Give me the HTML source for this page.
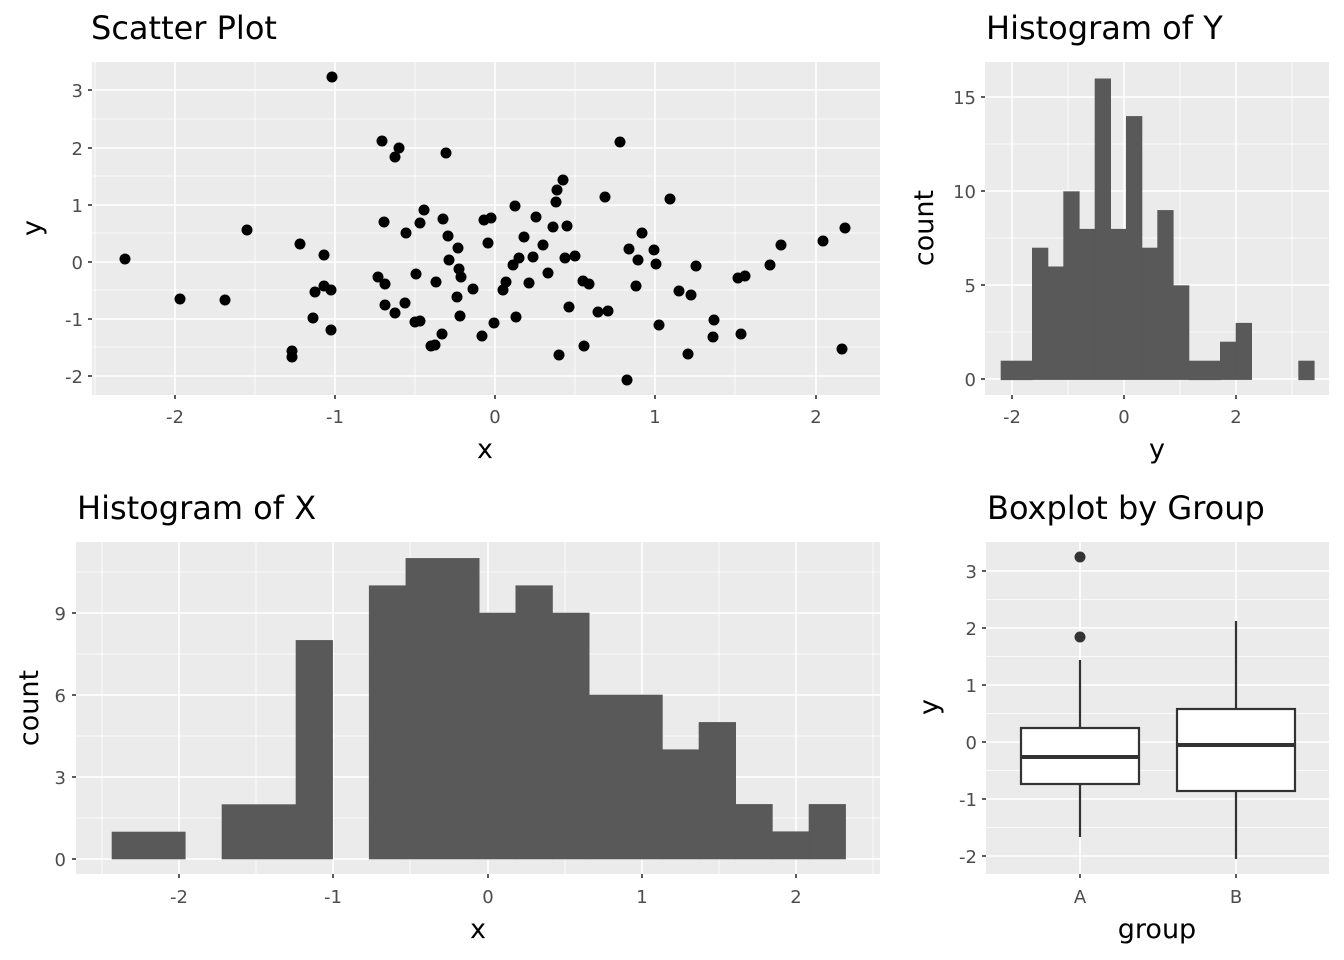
<!DOCTYPE html>
<html><head><style>body{margin:0;background:#fff}svg{display:block}</style></head><body>
<svg width="1344" height="960" xmlns="http://www.w3.org/2000/svg" font-family="DejaVu Sans, Liberation Sans, sans-serif">
<rect width="1344" height="960" fill="#fff"/>
<!-- Scatter -->
<rect x="92" y="62" width="788" height="333" fill="#ebebeb"/>
<g stroke="#fff" stroke-width="0.8">
<line x1="95" y1="62" x2="95" y2="395"/><line x1="255" y1="62" x2="255" y2="395"/><line x1="415" y1="62" x2="415" y2="395"/><line x1="575" y1="62" x2="575" y2="395"/><line x1="735" y1="62" x2="735" y2="395"/>
<line x1="92" y1="119" x2="880" y2="119"/><line x1="92" y1="176" x2="880" y2="176"/><line x1="92" y1="233" x2="880" y2="233"/><line x1="92" y1="290" x2="880" y2="290"/><line x1="92" y1="347" x2="880" y2="347"/>
</g>
<g stroke="#fff" stroke-width="1.6">
<line x1="175" y1="62" x2="175" y2="395"/><line x1="335" y1="62" x2="335" y2="395"/><line x1="495" y1="62" x2="495" y2="395"/><line x1="655" y1="62" x2="655" y2="395"/><line x1="816" y1="62" x2="816" y2="395"/>
<line x1="92" y1="90" x2="880" y2="90"/><line x1="92" y1="148" x2="880" y2="148"/><line x1="92" y1="205" x2="880" y2="205"/><line x1="92" y1="262" x2="880" y2="262"/><line x1="92" y1="319" x2="880" y2="319"/><line x1="92" y1="376" x2="880" y2="376"/>
</g>
<g stroke="#333" stroke-width="1.6">
<line x1="175" y1="395" x2="175" y2="399"/><line x1="335" y1="395" x2="335" y2="399"/><line x1="495" y1="395" x2="495" y2="399"/><line x1="655" y1="395" x2="655" y2="399"/><line x1="816" y1="395" x2="816" y2="399"/>
<line x1="88" y1="90" x2="92" y2="90"/><line x1="88" y1="148" x2="92" y2="148"/><line x1="88" y1="205" x2="92" y2="205"/><line x1="88" y1="262" x2="92" y2="262"/><line x1="88" y1="319" x2="92" y2="319"/><line x1="88" y1="376" x2="92" y2="376"/>
</g>
<g fill="#4d4d4d" font-size="18" text-anchor="middle">
<text x="175" y="423">-2</text><text x="335" y="423">-1</text><text x="495" y="423">0</text><text x="655" y="423">1</text><text x="816" y="423">2</text>
</g>
<g fill="#4d4d4d" font-size="18" text-anchor="end">
<text x="83" y="97">3</text><text x="83" y="155">2</text><text x="83" y="212">1</text><text x="83" y="269">0</text><text x="83" y="326">-1</text><text x="83" y="383">-2</text>
</g>
<text x="485" y="458" font-size="27" text-anchor="middle">x</text>
<text transform="translate(41,228) rotate(-90)" font-size="27" text-anchor="middle">y</text>
<text x="91" y="39" font-size="32">Scatter Plot</text>
<g fill="#000">
<circle cx="332" cy="77" r="5.5"/><circle cx="382" cy="141" r="5.5"/><circle cx="399" cy="148" r="5.5"/><circle cx="395" cy="157" r="5.5"/><circle cx="446" cy="153" r="5.5"/><circle cx="424" cy="210" r="5.5"/><circle cx="384" cy="222" r="5.5"/><circle cx="420" cy="223" r="5.5"/><circle cx="443" cy="219" r="5.5"/><circle cx="484" cy="220" r="5.5"/><circle cx="247" cy="230" r="5.5"/><circle cx="406" cy="233" r="5.5"/><circle cx="448" cy="236" r="5.5"/><circle cx="458" cy="248" r="5.5"/><circle cx="488" cy="243" r="5.5"/><circle cx="300" cy="244" r="5.5"/><circle cx="324" cy="255" r="5.5"/><circle cx="125" cy="259" r="5.5"/><circle cx="449" cy="260" r="5.5"/><circle cx="459" cy="269" r="5.5"/><circle cx="461" cy="277" r="5.5"/><circle cx="378" cy="277" r="5.5"/><circle cx="385" cy="284" r="5.5"/><circle cx="416" cy="274" r="5.5"/><circle cx="436" cy="282" r="5.5"/><circle cx="473" cy="289" r="5.5"/><circle cx="324" cy="286" r="5.5"/><circle cx="315" cy="292" r="5.5"/><circle cx="331" cy="290" r="5.5"/><circle cx="180" cy="299" r="5.5"/><circle cx="225" cy="300" r="5.5"/><circle cx="457" cy="297" r="5.5"/><circle cx="385" cy="305" r="5.5"/><circle cx="405" cy="303" r="5.5"/><circle cx="395" cy="313" r="5.5"/><circle cx="313" cy="318" r="5.5"/><circle cx="460" cy="316" r="5.5"/><circle cx="415" cy="322" r="5.5"/><circle cx="420" cy="321" r="5.5"/><circle cx="494" cy="323" r="5.5"/><circle cx="331" cy="330" r="5.5"/><circle cx="442" cy="334" r="5.5"/><circle cx="482" cy="336" r="5.5"/><circle cx="431" cy="346" r="5.5"/><circle cx="435" cy="345" r="5.5"/><circle cx="292" cy="351" r="5.5"/><circle cx="292" cy="357" r="5.5"/>
<circle cx="620" cy="142" r="5.5"/><circle cx="563" cy="180" r="5.5"/><circle cx="557" cy="190" r="5.5"/><circle cx="556" cy="202" r="5.5"/><circle cx="605" cy="197" r="5.5"/><circle cx="670" cy="199" r="5.5"/><circle cx="515" cy="206" r="5.5"/><circle cx="491" cy="218" r="5.5"/><circle cx="536" cy="217" r="5.5"/><circle cx="553" cy="227" r="5.5"/><circle cx="567" cy="226" r="5.5"/><circle cx="642" cy="233" r="5.5"/><circle cx="524" cy="237" r="5.5"/><circle cx="543" cy="245" r="5.5"/><circle cx="629" cy="249" r="5.5"/><circle cx="654" cy="250" r="5.5"/><circle cx="781" cy="245" r="5.5"/><circle cx="823" cy="241" r="5.5"/><circle cx="845" cy="228" r="5.5"/><circle cx="519" cy="258" r="5.5"/><circle cx="533" cy="257" r="5.5"/><circle cx="565" cy="258" r="5.5"/><circle cx="575" cy="256" r="5.5"/><circle cx="638" cy="260" r="5.5"/><circle cx="513" cy="265" r="5.5"/><circle cx="656" cy="264" r="5.5"/><circle cx="696" cy="266" r="5.5"/><circle cx="770" cy="265" r="5.5"/><circle cx="548" cy="273" r="5.5"/><circle cx="738" cy="278" r="5.5"/><circle cx="745" cy="276" r="5.5"/><circle cx="506" cy="282" r="5.5"/><circle cx="503" cy="290" r="5.5"/><circle cx="529" cy="283" r="5.5"/><circle cx="583" cy="281" r="5.5"/><circle cx="589" cy="284" r="5.5"/><circle cx="636" cy="286" r="5.5"/><circle cx="679" cy="291" r="5.5"/><circle cx="691" cy="295" r="5.5"/><circle cx="569" cy="307" r="5.5"/><circle cx="598" cy="312" r="5.5"/><circle cx="608" cy="311" r="5.5"/><circle cx="516" cy="317" r="5.5"/><circle cx="659" cy="325" r="5.5"/><circle cx="714" cy="320" r="5.5"/><circle cx="713" cy="337" r="5.5"/><circle cx="741" cy="334" r="5.5"/><circle cx="584" cy="346" r="5.5"/><circle cx="559" cy="355" r="5.5"/><circle cx="688" cy="354" r="5.5"/><circle cx="842" cy="349" r="5.5"/><circle cx="627" cy="380" r="5.5"/>
</g>

<!-- Histogram of Y -->
<rect x="985" y="62" width="344" height="333" fill="#ebebeb"/>
<g stroke="#fff" stroke-width="0.8">
<line x1="1068" y1="62" x2="1068" y2="395"/><line x1="1180" y1="62" x2="1180" y2="395"/><line x1="1292" y1="62" x2="1292" y2="395"/>
<line x1="985" y1="144" x2="1329" y2="144"/><line x1="985" y1="238" x2="1329" y2="238"/><line x1="985" y1="332" x2="1329" y2="332"/>
</g>
<g stroke="#fff" stroke-width="1.6">
<line x1="1012" y1="62" x2="1012" y2="395"/><line x1="1124" y1="62" x2="1124" y2="395"/><line x1="1236" y1="62" x2="1236" y2="395"/>
<line x1="985" y1="97" x2="1329" y2="97"/><line x1="985" y1="191" x2="1329" y2="191"/><line x1="985" y1="285" x2="1329" y2="285"/><line x1="985" y1="379" x2="1329" y2="379"/>
</g>
<g fill="#595959" stroke="#595959" stroke-width="0.6">
<rect x="1001" y="361" width="31.3" height="18.8"/>
<rect x="1032.3" y="248" width="15.7" height="131.6"/>
<rect x="1048" y="266.8" width="15.7" height="112.8"/>
<rect x="1063.6" y="191.6" width="15.7" height="188"/>
<rect x="1079.3" y="229.2" width="15.7" height="150.4"/>
<rect x="1095" y="78.8" width="15.7" height="300.8"/>
<rect x="1110.6" y="229.2" width="15.7" height="150.4"/>
<rect x="1126.3" y="116.4" width="15.7" height="263.2"/>
<rect x="1142" y="248" width="15.7" height="131.6"/>
<rect x="1157.6" y="210.4" width="15.7" height="169.2"/>
<rect x="1173.3" y="285.6" width="15.7" height="94"/>
<rect x="1189" y="361" width="31.3" height="18.8"/>
<rect x="1220.3" y="342" width="15.7" height="37.6"/>
<rect x="1236" y="323.2" width="15.7" height="56.4"/>
<rect x="1298.6" y="361" width="15.7" height="18.8"/>
</g>
<g stroke="#333" stroke-width="1.6">
<line x1="1012" y1="395" x2="1012" y2="399"/><line x1="1124" y1="395" x2="1124" y2="399"/><line x1="1236" y1="395" x2="1236" y2="399"/>
<line x1="981" y1="97" x2="985" y2="97"/><line x1="981" y1="191" x2="985" y2="191"/><line x1="981" y1="285" x2="985" y2="285"/><line x1="981" y1="379" x2="985" y2="379"/>
</g>
<g fill="#4d4d4d" font-size="18" text-anchor="middle">
<text x="1012" y="423">-2</text><text x="1124" y="423">0</text><text x="1236" y="423">2</text>
</g>
<g fill="#4d4d4d" font-size="18" text-anchor="end">
<text x="976" y="104">15</text><text x="976" y="198">10</text><text x="976" y="292">5</text><text x="976" y="386">0</text>
</g>
<text x="1157" y="458" font-size="27" text-anchor="middle">y</text>
<text transform="translate(933,228) rotate(-90)" font-size="27" text-anchor="middle">count</text>
<text x="986" y="39" font-size="32">Histogram of Y</text>

<!-- Histogram of X -->
<rect x="76" y="542" width="804" height="332" fill="#ebebeb"/>
<g stroke="#fff" stroke-width="0.8">
<line x1="102" y1="542" x2="102" y2="874"/><line x1="256" y1="542" x2="256" y2="874"/><line x1="410" y1="542" x2="410" y2="874"/><line x1="565" y1="542" x2="565" y2="874"/><line x1="719" y1="542" x2="719" y2="874"/><line x1="873" y1="542" x2="873" y2="874"/>
<line x1="76" y1="572" x2="880" y2="572"/><line x1="76" y1="654" x2="880" y2="654"/><line x1="76" y1="736" x2="880" y2="736"/><line x1="76" y1="818" x2="880" y2="818"/>
</g>
<g stroke="#fff" stroke-width="1.6">
<line x1="179" y1="542" x2="179" y2="874"/><line x1="333" y1="542" x2="333" y2="874"/><line x1="488" y1="542" x2="488" y2="874"/><line x1="642" y1="542" x2="642" y2="874"/><line x1="796" y1="542" x2="796" y2="874"/>
<line x1="76" y1="613" x2="880" y2="613"/><line x1="76" y1="695" x2="880" y2="695"/><line x1="76" y1="777" x2="880" y2="777"/><line x1="76" y1="859" x2="880" y2="859"/>
</g>
<g fill="#595959" stroke="#595959" stroke-width="0.6">
<rect x="112" y="832" width="73.3" height="27"/>
<rect x="222" y="804.6" width="74" height="54.4"/>
<rect x="296" y="640.4" width="36.6" height="218.6"/>
<rect x="369.2" y="585.7" width="36.7" height="273.3"/>
<rect x="405.9" y="558.4" width="73.3" height="300.6"/>
<rect x="479.2" y="613" width="36.7" height="246"/>
<rect x="515.8" y="585.7" width="36.7" height="273.3"/>
<rect x="552.5" y="613" width="36.7" height="246"/>
<rect x="589.1" y="695" width="73.3" height="164"/>
<rect x="662.4" y="749.7" width="36.7" height="109.3"/>
<rect x="699" y="722.4" width="36.7" height="136.6"/>
<rect x="735.7" y="804.4" width="36.7" height="54.6"/>
<rect x="772.3" y="831.7" width="36.7" height="27.3"/>
<rect x="809" y="804.4" width="36.6" height="54.6"/>
</g>
<g stroke="#333" stroke-width="1.6">
<line x1="179" y1="874" x2="179" y2="878"/><line x1="333" y1="874" x2="333" y2="878"/><line x1="488" y1="874" x2="488" y2="878"/><line x1="642" y1="874" x2="642" y2="878"/><line x1="796" y1="874" x2="796" y2="878"/>
<line x1="72" y1="613" x2="76" y2="613"/><line x1="72" y1="695" x2="76" y2="695"/><line x1="72" y1="777" x2="76" y2="777"/><line x1="72" y1="859" x2="76" y2="859"/>
</g>
<g fill="#4d4d4d" font-size="18" text-anchor="middle">
<text x="179" y="903">-2</text><text x="333" y="903">-1</text><text x="488" y="903">0</text><text x="642" y="903">1</text><text x="796" y="903">2</text>
</g>
<g fill="#4d4d4d" font-size="18" text-anchor="end">
<text x="66" y="620">9</text><text x="66" y="702">6</text><text x="66" y="784">3</text><text x="66" y="866">0</text>
</g>
<text x="478" y="938" font-size="27" text-anchor="middle">x</text>
<text transform="translate(38,708) rotate(-90)" font-size="27" text-anchor="middle">count</text>
<text x="77" y="519" font-size="32">Histogram of X</text>

<!-- Boxplot -->
<rect x="986" y="542" width="343" height="332" fill="#ebebeb"/>
<g stroke="#fff" stroke-width="0.8">
<line x1="986" y1="599.5" x2="1329" y2="599.5"/><line x1="986" y1="656.5" x2="1329" y2="656.5"/><line x1="986" y1="713.5" x2="1329" y2="713.5"/><line x1="986" y1="770.5" x2="1329" y2="770.5"/><line x1="986" y1="827.5" x2="1329" y2="827.5"/>
</g>
<g stroke="#fff" stroke-width="1.6">
<line x1="1080" y1="542" x2="1080" y2="874"/><line x1="1236" y1="542" x2="1236" y2="874"/>
<line x1="986" y1="571" x2="1329" y2="571"/><line x1="986" y1="628" x2="1329" y2="628"/><line x1="986" y1="685" x2="1329" y2="685"/><line x1="986" y1="742" x2="1329" y2="742"/><line x1="986" y1="799" x2="1329" y2="799"/><line x1="986" y1="856" x2="1329" y2="856"/>
</g>
<g stroke="#333" stroke-width="2.2" fill="#fff">
<line x1="1080" y1="660" x2="1080" y2="728"/><line x1="1080" y1="784" x2="1080" y2="837"/>
<rect x="1021" y="728" width="118" height="56"/>
<line x1="1236" y1="621" x2="1236" y2="709"/><line x1="1236" y1="791" x2="1236" y2="859"/>
<rect x="1177" y="709" width="118" height="82"/>
</g>
<g stroke="#333" stroke-width="4">
<line x1="1021" y1="757" x2="1139" y2="757"/><line x1="1177" y1="745" x2="1295" y2="745"/>
</g>
<g fill="#333"><circle cx="1080" cy="557" r="5.5"/><circle cx="1080" cy="637" r="5.5"/></g>
<g stroke="#333" stroke-width="1.6">
<line x1="1080" y1="874" x2="1080" y2="878"/><line x1="1236" y1="874" x2="1236" y2="878"/>
<line x1="982" y1="571" x2="986" y2="571"/><line x1="982" y1="628" x2="986" y2="628"/><line x1="982" y1="685" x2="986" y2="685"/><line x1="982" y1="742" x2="986" y2="742"/><line x1="982" y1="799" x2="986" y2="799"/><line x1="982" y1="856" x2="986" y2="856"/>
</g>
<g fill="#4d4d4d" font-size="18" text-anchor="middle">
<text x="1080" y="903">A</text><text x="1236" y="903">B</text>
</g>
<g fill="#4d4d4d" font-size="18" text-anchor="end">
<text x="977" y="578">3</text><text x="977" y="635">2</text><text x="977" y="692">1</text><text x="977" y="749">0</text><text x="977" y="806">-1</text><text x="977" y="863">-2</text>
</g>
<text x="1157" y="938" font-size="27" text-anchor="middle">group</text>
<text transform="translate(938,707) rotate(-90)" font-size="27" text-anchor="middle">y</text>
<text x="987" y="519" font-size="32">Boxplot by Group</text>
</svg>
</body></html>
